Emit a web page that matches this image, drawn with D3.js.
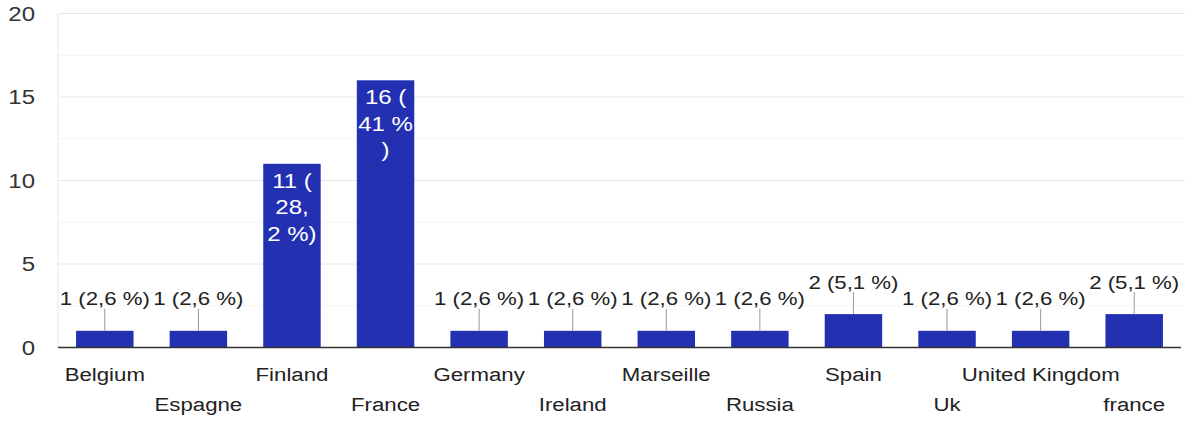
<!DOCTYPE html>
<html>
<head>
<meta charset="utf-8">
<script src="https://cdn.jsdelivr.net/npm/d3@7"></script>
<style>
  html, body { margin: 0; padding: 0; background: #fff; }
  svg { display: block; }
  text { font-family: "Liberation Sans", Arial, Helvetica, sans-serif; }
</style>
</head>
<body>
<svg id="chart" width="1189" height="421"></svg>
<script>
// Responses per country
const categories = ["Belgium", "Espagne", "Finland", "France", "Germany", "Ireland",
                    "Marseille", "Russia", "Spain", "Uk", "United Kingdom", "france"];
const counts = [1, 1, 11, 16, 1, 1, 1, 1, 2, 1, 1, 2];
const yTicks = [0, 5, 10, 15, 20];
const yMinorTicks = [2.5, 7.5, 12.5, 17.5];

const plotLeft = 58, plotRight = 1181, plotTop = 13.5, plotBottom = 347.5;
const sx = 1.17; // horizontal stretch applied to all text glyphs
const barColor = "#2330b2";

const svg = d3.select("#chart");
const total = d3.sum(counts);

const x = d3.scaleBand()
  .domain(categories)
  .range([plotLeft, plotRight])
  .paddingInner(0.386)
  .paddingOuter(0.193);

const y = d3.scaleLinear().domain([0, 20]).range([plotBottom, plotTop]);

// percentage with one decimal, comma separator, trailing zero dropped
function pct(v) {
  const p = Math.round(v / total * 1000) / 10;
  return String(p).replace(".", ",") + " %";
}
function label(v) { return v + " (" + pct(v) + ")"; }
// wrapped form of the label used inside tall bars
function insideLines(v) {
  const rest = pct(v) + ")";
  const lines = [v + " ("];
  const comma = rest.indexOf(",");
  if (comma >= 0) {
    lines.push(rest.slice(0, comma + 1), rest.slice(comma + 1));
  } else {
    lines.push(rest.slice(0, -1), ")");
  }
  return lines;
}

function place(sel, fx, fy) {
  return sel.attr("transform", (d, i) => `translate(${fx(d, i)},${fy(d, i)}) scale(${sx},1)`);
}

// minor gridlines
svg.append("g").selectAll("line").data(yMinorTicks).join("line")
  .attr("x1", plotLeft).attr("x2", 1185)
  .attr("y1", d => y(d)).attr("y2", d => y(d))
  .attr("stroke", "#f4f4f4").attr("stroke-width", 1);

// major gridlines
svg.append("g").selectAll("line").data(yTicks.filter(t => t > 0)).join("line")
  .attr("x1", plotLeft).attr("x2", 1185)
  .attr("y1", d => y(d)).attr("y2", d => y(d))
  .attr("stroke", "#e8e8e8").attr("stroke-width", 1);

// left frame line
svg.append("line")
  .attr("x1", plotLeft).attr("x2", plotLeft)
  .attr("y1", y(20)).attr("y2", y(0))
  .attr("stroke", "#e8e8e8");

// y tick labels
place(svg.append("g").selectAll("text").data(yTicks).join("text")
  .attr("text-anchor", "end")
  .attr("dy", "0.36em")
  .attr("font-size", 20.5)
  .attr("fill", "#333")
  .text(d => d), () => 35, d => y(d));

// bars
svg.append("g").selectAll("rect").data(categories).join("rect")
  .attr("x", d => x(d))
  .attr("width", x.bandwidth())
  .attr("y", (d, i) => y(counts[i]))
  .attr("height", (d, i) => y(0) - y(counts[i]))
  .attr("fill", barColor);

// baseline
svg.append("line")
  .attr("x1", plotLeft).attr("x2", plotRight)
  .attr("y1", y(0)).attr("y2", y(0))
  .attr("stroke", "#333").attr("stroke-width", 1.5);

const rows = categories.map((c, i) => ({ c, v: counts[i], cx: x(c) + x.bandwidth() / 2 }));
const isInside = d => y(0) - y(d.v) > 100;

// labels above short bars, with leader lines
const outside = rows.filter(d => !isInside(d));
svg.append("g").selectAll("line").data(outside).join("line")
  .attr("x1", d => d.cx).attr("x2", d => d.cx)
  .attr("y1", d => y(d.v)).attr("y2", d => y(d.v) - 22)
  .attr("stroke", "#999").attr("stroke-width", 1);

place(svg.append("g").selectAll("text").data(outside).join("text")
  .attr("text-anchor", "middle")
  .attr("font-size", 19)
  .attr("fill", "#222")
  .text(d => label(d.v)), d => d.cx, d => y(d.v) - 25.5);

// wrapped labels inside tall bars
const inside = rows.filter(isInside);
const ig = svg.append("g").selectAll("g").data(inside).join("g");
ig.each(function (d) {
  const lines = insideLines(d.v);
  place(d3.select(this).selectAll("text").data(lines).join("text")
    .attr("text-anchor", "middle")
    .attr("font-size", 20.5)
    .attr("fill", "#fff")
    .text(t => t), () => d.cx, (t, i) => y(d.v) + 24 + i * 26.5);
});

// category labels, alternating between two rows
place(svg.append("g").selectAll("text").data(rows).join("text")
  .attr("text-anchor", "middle")
  .attr("font-size", 19)
  .attr("fill", "#222")
  .text(d => d.c), d => d.cx, (d, i) => i % 2 === 0 ? 381 : 411);
</script>
</body>
</html>
